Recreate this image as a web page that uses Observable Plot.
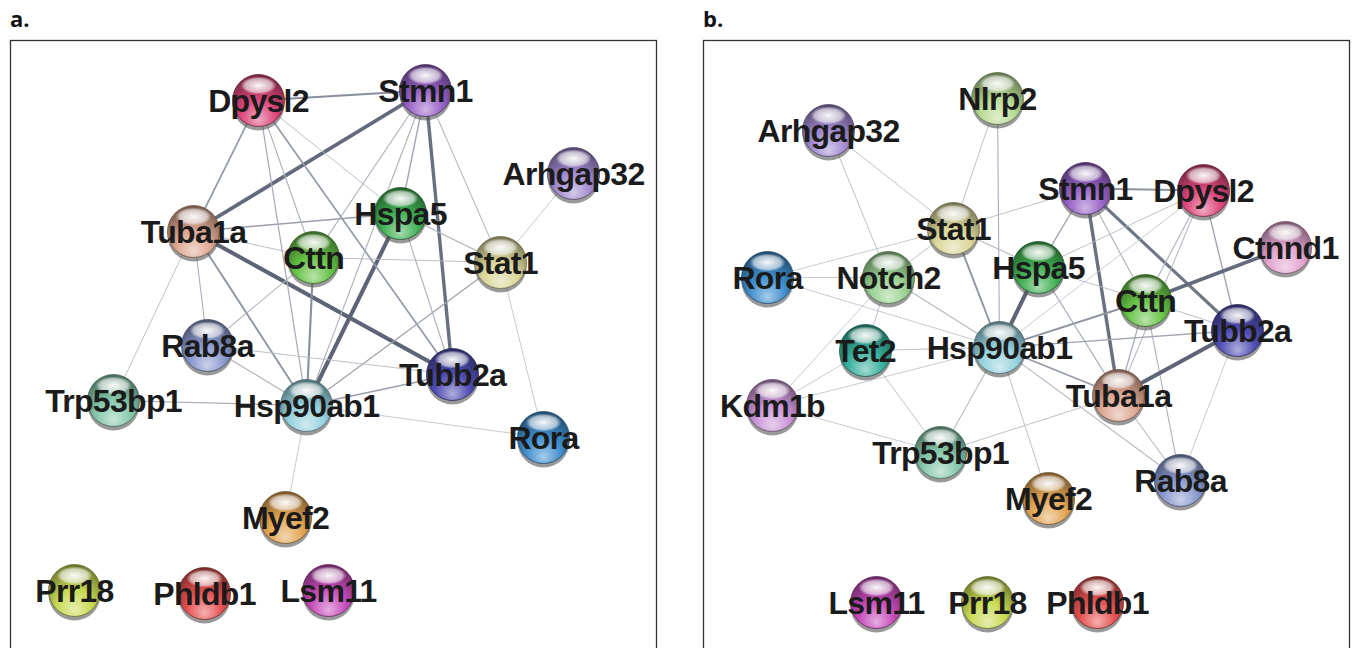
<!DOCTYPE html>
<html><head><meta charset="utf-8">
<script src="https://cdn.jsdelivr.net/npm/d3@7"></script>
<script src="https://cdn.jsdelivr.net/npm/@observablehq/plot@0.6"></script>
<style>
html,body{margin:0;padding:0;background:#fff;overflow:hidden;width:1354px;height:648px;}
.panel{position:absolute;top:39px;}
.tag{position:absolute;top:3px;font-family:"Open Sans",sans-serif;font-weight:700;font-size:22px;color:#111;}
g[aria-label="text"] text{letter-spacing:-0.7px}
</style></head><body>
<div class="tag" style="left:10px">a.</div>
<div class="tag" style="left:703px">b.</div>
<div id="pa" class="panel" style="left:9px"></div>
<div id="pb" class="panel" style="left:702px"></div>
<script>
// ---------- Panel a : node layout (panel coordinates) ----------
const nodesA = ["Dpysl2","Stmn1","Arhgap32","Tuba1a","Hspa5","Cttn","Stat1","Rab8a","Trp53bp1","Hsp90ab1","Tubb2a","Rora","Myef2","Prr18","Phldb1","Lsm11"];
const xA = [248, 415, 563, 183, 390, 303, 490, 197, 103, 296, 442, 533, 275, 64, 194, 318];
const yA = [ 60,  50, 133, 191, 173, 217, 222, 305, 360, 365, 334, 397, 477, 550, 553, 550];
// edges: [source, target, confidence]
const edgesA = [
  ["Dpysl2","Stmn1",0.6],["Tuba1a","Stmn1",0.9],["Tuba1a","Dpysl2",0.5],["Tuba1a","Tubb2a",0.95],
  ["Stmn1","Tubb2a",0.85],["Hspa5","Hsp90ab1",0.95],["Tuba1a","Hspa5",0.45],["Tuba1a","Cttn",0.2],
  ["Cttn","Stat1",0.2],["Cttn","Hsp90ab1",0.6],["Dpysl2","Hsp90ab1",0.35],["Dpysl2","Cttn",0.3],
  ["Dpysl2","Tubb2a",0.5],["Dpysl2","Hspa5",0.2],["Hspa5","Stat1",0.3],["Stmn1","Hspa5",0.4],
  ["Stmn1","Cttn",0.3],["Stmn1","Hsp90ab1",0.3],["Stmn1","Stat1",0.25],["Arhgap32","Stat1",0.15],
  ["Stat1","Hsp90ab1",0.4],["Stat1","Rora",0.15],["Hsp90ab1","Rora",0.15],["Hsp90ab1","Tubb2a",0.45],
  ["Hsp90ab1","Rab8a",0.3],["Hsp90ab1","Trp53bp1",0.35],["Hsp90ab1","Myef2",0.15],["Tuba1a","Hsp90ab1",0.55],
  ["Tuba1a","Rab8a",0.3],["Tuba1a","Trp53bp1",0.2],["Rab8a","Cttn",0.25],["Rab8a","Tubb2a",0.2],
  ["Hspa5","Tubb2a",0.3]
];
// ---------- Panel b ----------
const nodesB = ["Arhgap32","Nlrp2","Stat1","Rora","Notch2","Stmn1","Dpysl2","Ctnnd1","Hspa5","Cttn","Tubb2a","Tet2","Hsp90ab1","Kdm1b","Tuba1a","Trp53bp1","Rab8a","Myef2","Lsm11","Prr18","Phldb1"];
const xB = [125, 294, 250,  64, 185, 382, 500, 582, 335, 442, 534, 162, 296,  69, 415, 237, 477, 345, 173, 284, 394];
const yB = [ 90,  58, 188, 237, 237, 148, 150, 207, 227, 260, 290, 310, 307, 365, 355, 412, 440, 458, 562, 562, 562];
const edgesB = [
  ["Stmn1","Dpysl2",0.55],["Stmn1","Tuba1a",0.85],["Stmn1","Tubb2a",0.8],["Stmn1","Hspa5",0.4],
  ["Stmn1","Cttn",0.3],["Stmn1","Stat1",0.2],["Dpysl2","Cttn",0.3],["Dpysl2","Tuba1a",0.25],
  ["Dpysl2","Tubb2a",0.4],["Dpysl2","Hspa5",0.2],["Dpysl2","Hsp90ab1",0.15],["Ctnnd1","Cttn",0.9],
  ["Cttn","Hsp90ab1",0.55],["Cttn","Tuba1a",0.35],["Cttn","Rab8a",0.3],["Hspa5","Hsp90ab1",0.95],
  ["Hspa5","Tuba1a",0.35],["Hspa5","Stat1",0.25],["Hspa5","Cttn",0.2],["Tuba1a","Tubb2a",0.95],
  ["Tuba1a","Hsp90ab1",0.5],["Tuba1a","Rab8a",0.25],["Tuba1a","Trp53bp1",0.2],["Tubb2a","Hsp90ab1",0.4],
  ["Tubb2a","Rab8a",0.15],["Tubb2a","Cttn",0.2],["Hsp90ab1","Rab8a",0.25],["Hsp90ab1","Stat1",0.55],
  ["Hsp90ab1","Nlrp2",0.3],["Hsp90ab1","Notch2",0.25],["Hsp90ab1","Tet2",0.2],["Hsp90ab1","Kdm1b",0.15],
  ["Hsp90ab1","Trp53bp1",0.25],["Hsp90ab1","Myef2",0.2],["Hsp90ab1","Rora",0.15],["Stat1","Nlrp2",0.2],
  ["Stat1","Arhgap32",0.2],["Stat1","Rora",0.15],["Stat1","Notch2",0.2],["Arhgap32","Notch2",0.2],
  ["Rora","Notch2",0.15],["Notch2","Tet2",0.2],["Notch2","Kdm1b",0.15],["Tet2","Kdm1b",0.15],
  ["Tet2","Trp53bp1",0.2],["Kdm1b","Trp53bp1",0.15]
];

// ---------- styles ----------
const palette = {
  Dpysl2:"#dc467a", Stmn1:"#9660c6", Arhgap32:"#a088ce", Tuba1a:"#dca690", Hspa5:"#40b052",
  Cttn:"#66c246", Stat1:"#dad698", Rab8a:"#8898ce", Trp53bp1:"#86c8ac", Hsp90ab1:"#96d2de",
  Tubb2a:"#4e4cb2", Rora:"#3e8ece", Myef2:"#e2a452", Prr18:"#c8da52", Phldb1:"#e65050",
  Lsm11:"#c64aba", Nlrp2:"#b8da92", Notch2:"#9ad292", Tet2:"#36b09c", Kdm1b:"#ca94d6", Ctnnd1:"#e2a4ce"
};
const R = 26;

function panel(id, W, H, names, xs, ys, edges) {
  const nodes = names.map((n, i) => ({name: n, x: xs[i], y: ys[i]}));
  const pos = new Map(nodes.map(d => [d.name, d]));
  const links = edges.map(([a, b, s]) => ({x1: pos.get(a).x, y1: pos.get(a).y, x2: pos.get(b).x, y2: pos.get(b).y, s}));
  const defs = () => {
    const g = d3.create("svg:defs");
    nodes.forEach((d, i) => {
      const c = palette[d.name];
      const rg = g.append("radialGradient").attr("id", `${id}-g${i}`)
        .attr("cx", "50%").attr("cy", "72%").attr("r", "75%").attr("fx", "50%").attr("fy", "88%");
      rg.append("stop").attr("offset", "0%").attr("stop-color", d3.interpolateRgb(c, "#fff")(0.55));
      rg.append("stop").attr("offset", "45%").attr("stop-color", c);
      rg.append("stop").attr("offset", "100%").attr("stop-color", d3.interpolateRgb(c, "#000")(0.5));
    });
    const hl = g.append("radialGradient").attr("id", `${id}-hl`)
      .attr("cx", 0.5).attr("cy", 0.2).attr("r", 0.36)
      .attr("gradientTransform", "translate(0.5,0.2) scale(1,0.5) translate(-0.5,-0.2)");
    hl.append("stop").attr("offset", "0%").attr("stop-color", "#fff").attr("stop-opacity", 0.95);
    hl.append("stop").attr("offset", "75%").attr("stop-color", "#fff").attr("stop-opacity", 0.6);
    hl.append("stop").attr("offset", "100%").attr("stop-color", "#fff").attr("stop-opacity", 0);
    return g.node();
  };
  return Plot.plot({
    width: W + 2, height: H + 2, margin: 1,
    style: {background: "transparent", overflow: "visible"},
    x: {domain: [0, W], axis: null},
    y: {domain: [0, H], reverse: true, axis: null},
    color: {type: "identity"},
    marks: [
      defs,
      Plot.frame({stroke: "#333", strokeWidth: 1.3}),
      Plot.link(links, {
        x1: "x1", y1: "y1", x2: "x2", y2: "y2",
        stroke: d => d3.interpolateRgb("#d2d5dd", "#565e70")(d.s),
        strokeWidth: d => 0.8 + 3.6 * d.s * d.s
      }),
      Plot.dot(nodes, {x: "x", y: "y", r: R, dy: 4, fill: "#555", fillOpacity: 0.6}),
      Plot.dot(nodes, {x: "x", y: "y", r: R, fill: (d, i) => `url(#${id}-g${i})`,
        stroke: d => d3.interpolateRgb(palette[d.name], "#000")(0.5), strokeWidth: 0.8}),
      Plot.dot(nodes, {x: "x", y: "y", r: R - 1, fill: () => `url(#${id}-hl)`}),
      Plot.text(nodes, {x: "x", y: "y", text: "name", dy: 1, fontSize: 32, fontWeight: 700,
        fontFamily: "'Liberation Sans', Arial, sans-serif", fill: "#1b1b1b"})
    ]
  });
}

document.getElementById("pa").append(panel("pa", 646, 620, nodesA, xA, yA, edgesA));
document.getElementById("pb").append(panel("pb", 646, 620, nodesB, xB, yB, edgesB));
</script>
</body></html>
